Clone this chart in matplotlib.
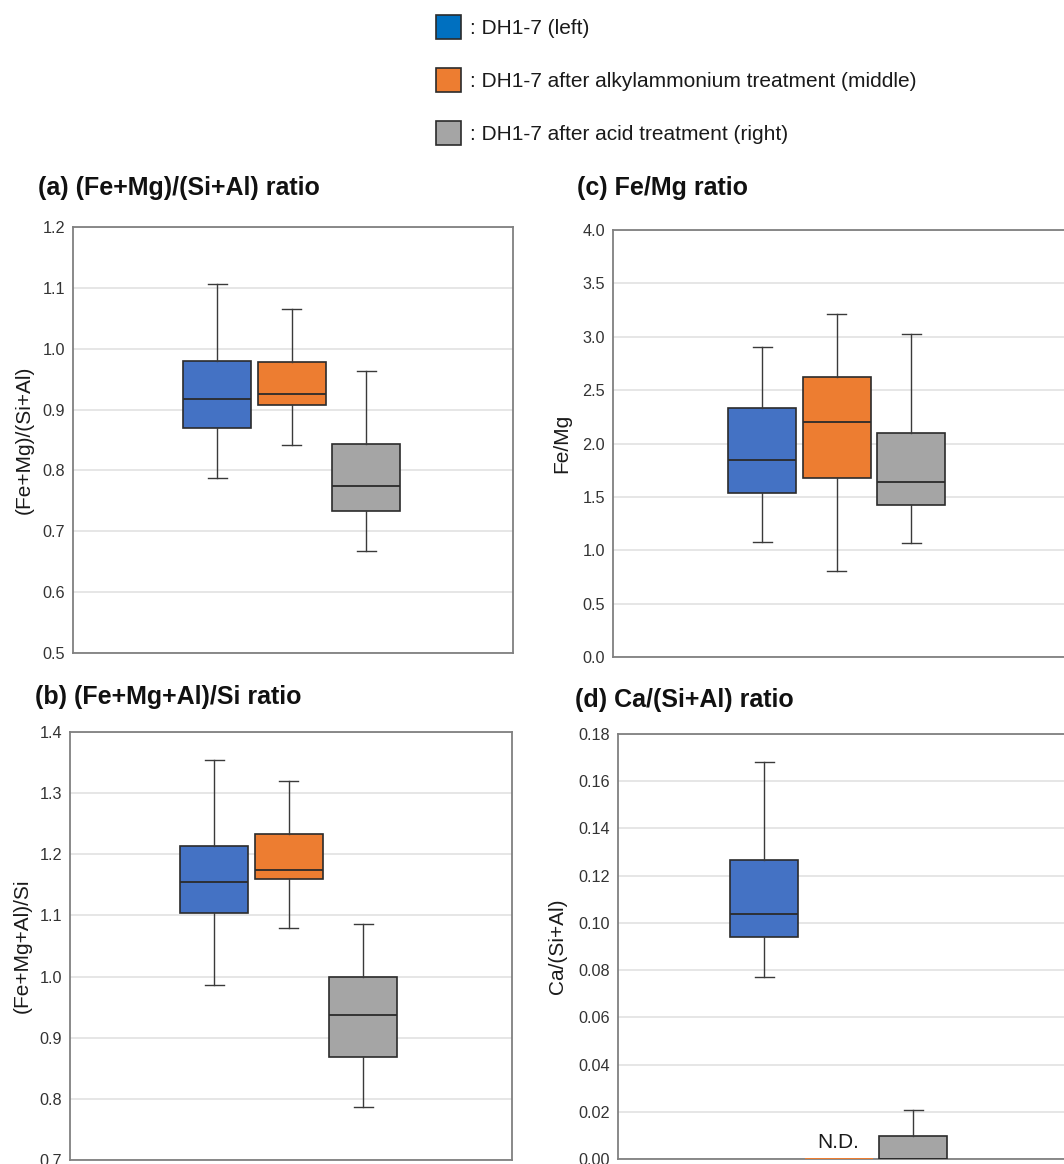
import matplotlib
matplotlib.use('Agg')
import matplotlib.pyplot as plt
import matplotlib.patches as mpatches

plt.rcParams['font.family'] = ['Liberation Sans', 'DejaVu Sans']

groups = ['DH1-7 (left)',
          'DH1-7 after alkylammonium treatment (middle)',
          'DH1-7 after acid treatment (right)']
box_colors = ['#4472C4', '#ED7D31', '#A5A5A5']
key_colors = ['#0070C0', '#ED7D31', '#A5A5A5']

# (a) (Fe+Mg)/(Si+Al)
a_lo = [0.787, 0.841, 0.668]
a_q1 = [0.870, 0.908, 0.733]
a_med = [0.918, 0.925, 0.774]
a_q3 = [0.980, 0.978, 0.844]
a_hi = [1.107, 1.065, 0.963]

# (b) (Fe+Mg+Al)/Si
b_lo = [0.987, 1.079, 0.787]
b_q1 = [1.104, 1.159, 0.869]
b_med = [1.155, 1.175, 0.937]
b_q3 = [1.213, 1.233, 1.000]
b_hi = [1.355, 1.320, 1.086]

# (c) Fe/Mg
c_lo = [1.08, 0.81, 1.07]
c_q1 = [1.54, 1.68, 1.425]
c_med = [1.845, 2.20, 1.64]
c_q3 = [2.33, 2.62, 2.10]
c_hi = [2.90, 3.21, 3.025]

# (d) Ca/(Si+Al), middle group not detected
d_lo = [0.0772, 0.0, 0.0]
d_q1 = [0.0942, 0.0, 0.0]
d_med = [0.1037, 0.0, 0.0]
d_q3 = [0.1267, 0.0, 0.0098]
d_hi = [0.168, 0.0, 0.0207]

W, H = 1064, 1164
fig = plt.figure(figsize=(W / 100, H / 100), dpi=100)

PX_UNIT = 74.5   # pixels per box step


def px_axes(left, top, right, bottom):
    return fig.add_axes([left / W, 1 - bottom / H, (right - left) / W, (bottom - top) / H])


def draw_panel(ax, width_px, first_px, lo, q1, med, q3, hi, ylim, step, fmt, ylabel, label_x):
    stats = []
    for i in range(3):
        stats.append(dict(whislo=lo[i], q1=q1[i], med=med[i], q3=q3[i], whishi=hi[i], fliers=[]))
    x0 = 1 - first_px / PX_UNIT
    ax.set_xlim(x0, x0 + width_px / PX_UNIT)
    line_c = '#3a3a3a'
    bp = ax.bxp(stats, positions=[1, 2, 3], widths=68 / PX_UNIT, capwidths=19 / PX_UNIT,
                showfliers=False, patch_artist=True, manage_ticks=False,
                boxprops=dict(edgecolor='#2b2b2b', linewidth=1.2),
                medianprops=dict(color='#2b2b2b', linewidth=1.3),
                whiskerprops=dict(color=line_c, linewidth=1.0),
                capprops=dict(color=line_c, linewidth=1.0), zorder=3)
    for patch, c in zip(bp['boxes'], box_colors):
        patch.set_facecolor(c)
    ax.set_ylim(*ylim)
    n = int(round((ylim[1] - ylim[0]) / step))
    ticks = [ylim[0] + k * step for k in range(n + 1)]
    ax.set_yticks(ticks)
    ax.set_yticklabels([fmt % t for t in ticks])
    ax.set_xticks([])
    ax.tick_params(axis='y', length=0, pad=5.8, labelsize=11.7, labelcolor='#333333')
    ax.yaxis.grid(True, color='#e4e4e4', linewidth=1.3)
    ax.set_axisbelow(True)
    for sp in ax.spines.values():
        sp.set_color('#808080')
        sp.set_linewidth(1.3)
    ax.set_ylabel(ylabel, fontsize=15, color='#1a1a1a', va='center')
    ax.yaxis.set_label_coords(label_x, 0.5)
    return bp


ax_a = px_axes(73, 227, 513, 653)
draw_panel(ax_a, 440, 144, a_lo, a_q1, a_med, a_q3, a_hi, (0.5, 1.2), 0.1, '%.1f',
           '(Fe+Mg)/(Si+Al)', -0.111)

ax_c = px_axes(613, 230, 1085, 657)
draw_panel(ax_c, 472, 149, c_lo, c_q1, c_med, c_q3, c_hi, (0.0, 4.0), 0.5, '%.1f',
           'Fe/Mg', -0.108)

ax_b = px_axes(70, 732, 512, 1160)
draw_panel(ax_b, 442, 144, b_lo, b_q1, b_med, b_q3, b_hi, (0.7, 1.4), 0.1, '%.1f',
           '(Fe+Mg+Al)/Si', -0.109)

ax_d = px_axes(618, 734, 1085, 1159)
bp_d = draw_panel(ax_d, 467, 146, d_lo, d_q1, d_med, d_q3, d_hi, (0.0, 0.18), 0.02, '%.2f',
                  'Ca/(Si+Al)', -0.13)
# not detected: flat orange line only
bp_d['boxes'][1].set_edgecolor(box_colors[1])
bp_d['medians'][1].set_color(box_colors[1])
for art in bp_d['whiskers'][2:4] + bp_d['caps'][2:4]:
    art.set_visible(False)
ax_d.text(2, 0.0072, 'N.D.', ha='center', va='center', fontsize=15, color='#1a1a1a')

# panel titles
titles = [('(a) (Fe+Mg)/(Si+Al) ratio', 38, 188),
          ('(c) Fe/Mg ratio', 577, 188),
          ('(b) (Fe+Mg+Al)/Si ratio', 35, 697),
          ('(d) Ca/(Si+Al) ratio', 575, 700)]
for txt, x, y in titles:
    fig.text(x / W, 1 - y / H, txt, fontsize=18, fontweight='bold', ha='left', va='center',
             color='#111111')

handles = [mpatches.Patch(facecolor=c, edgecolor='#2b2b2b', linewidth=1.2) for c in key_colors]
fig.legend(handles, [': ' + g for g in groups], loc='upper left',
           bbox_to_anchor=(436 / W, 1 - 15 / H), frameon=False, fontsize=15,
           handlelength=1.2, handleheight=1.4, handletextpad=0.45, labelspacing=1.39,
           borderpad=0, borderaxespad=0, labelcolor='#1a1a1a')

fig.savefig('out.png', dpi=100)
